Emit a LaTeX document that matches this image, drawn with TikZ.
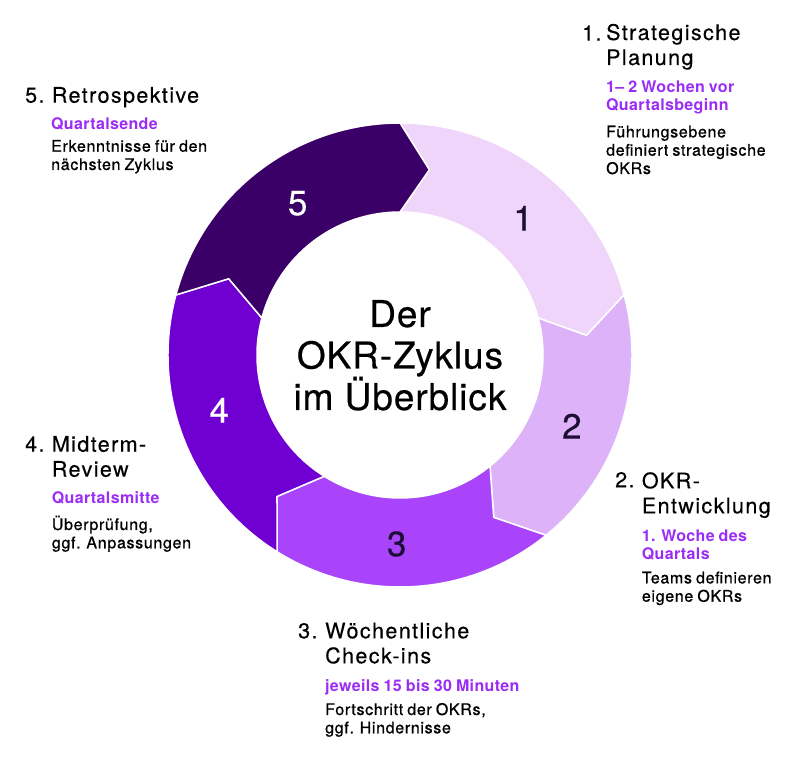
\documentclass[tikz,border=0pt]{standalone}
\usepackage{fontspec}
\setmainfont{TeX Gyre Heros}
\newfontfamily\headfont{TeX Gyre Heros}[LetterSpace=6.5, WordSpace=0.8, FakeBold=0.3]
\newfontfamily\bodyfont{TeX Gyre Heros}[LetterSpace=4.2, WordSpace=0.8, FakeBold=0.8]
\newfontfamily\whenfont{TeX Gyre Heros}[LetterSpace=2.2, WordSpace=0.85]
\newfontfamily\midfont{TeX Gyre Heros}[LetterSpace=2.5, FakeBold=0.4]
\definecolor{segA}{HTML}{F0D5FB}
\definecolor{segB}{HTML}{DDB2F9}
\definecolor{segC}{HTML}{A944FA}
\definecolor{segD}{HTML}{7000D2}
\definecolor{segE}{HTML}{3B0068}
\definecolor{accent}{HTML}{9A2CF5}
\definecolor{ink}{HTML}{1C0E33}
\tikzset{
  lbl/.style={anchor=base west, inner sep=0pt, align=left},
  head/.style={lbl, font=\headfont\fontsize{21.5}{25}\selectfont},
  when/.style={lbl, text=accent, font=\whenfont\bfseries\fontsize{16}{18}\selectfont},
  desc/.style={lbl, font=\bodyfont\fontsize{16}{18.3}\selectfont},
  num/.style={inner sep=0pt, font=\midfont\fontsize{35}{35}\selectfont}
}
\begin{document}
\begin{tikzpicture}[x=1pt,y=1pt]
        \fill[white] (0,0) rectangle (800,760);
        \useasboundingbox (0,0) rectangle (800,760);
        \begin{scope}[shift={(400,405)}]
          \foreach \a/\b/\col in {90/15/segA,15/-51/segB,-51/-122/segC,-122/-195/segD,165/90/segE}
            \filldraw[fill=\col, draw=white, line width=1.5, line join=round]
              (\a:232) arc[start angle=\a, end angle=\b, radius=232] -- (\b-9:187.5) -- (\b:143)
              arc[start angle=\b, end angle=\a, radius=143] -- (\a-9:187.5) -- cycle;
          \node[num, text=ink] (N1) at (48:184) {1};
          \node[num, text=ink] (N2) at (-22.5:186) {2};
          \node[num, text=ink] (N3) at (-91:189) {3};
          \node[num, text=white] (N4) at (-163:189) {4};
          \node[num, text=white] (N5) at (124:183) {5};
          \node[num, anchor=base, align=center, font=\midfont\fontsize{37}{41.5}\selectfont] (M) at (0,-55) {Der\\OKR-Zyklus\\im Überblick};
        \end{scope}

        \node[head] (K1) at (582,719.3) {1.};
        \node[head] (T1) at (606,695) {Strategische\\Planung};
        \node[when] (W1) at (606,649.3) {1– 2 Wochen vor\\Quartalsbeginn};
        \node[desc] (D1) at (606,586) {Führungsebene\\definiert strategische\\OKRs};

        \node[head] (K2) at (615,272.7) {2.};
        \node[head] (T2) at (641.7,246.7) {OKR-\\Entwicklung};
        \node[when] (W2) at (641.7,200.7) {1. Woche des\\Quartals};
        \node[desc] (D2) at (641.7,158.3) {Teams definieren\\eigene OKRs};

        \node[head] (K3) at (298,121.7) {3.};
        \node[head] (T3) at (325,96.7) {Wöchentliche\\Check-ins};
        \node[when] (W3) at (325,68.3) {jeweils 15 bis 30 Minuten};
        \node[desc] (D3) at (325,26.7) {Fortschritt der OKRs,\\ggf. Hindernisse};

        \node[head] (K4) at (25,308.3) {4.};
        \node[head] (T4) at (51.7,283.3) {Midterm-\\Review};
        \node[when] (W4) at (51.7,256.7) {Quartalsmitte};
        \node[desc] (D4) at (51.7,211.7) {Überprüfung,\\ggf. Anpassungen};

        \node[head] (K5) at (25,657.3) {5.};
        \node[head] (T5) at (51.7,657.3) {Retrospektive};
        \node[when] (W5) at (51,630) {Quartalsende};
        \node[desc] (D5) at (51,590) {Erkenntnisse für den\\nächsten Zyklus};
\end{tikzpicture}
\end{document}
